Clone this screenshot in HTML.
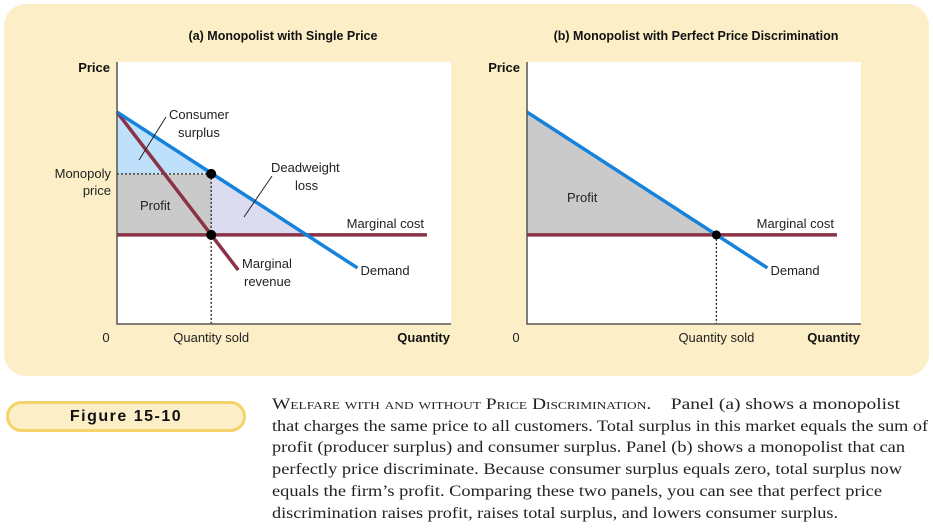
<!DOCTYPE html>
<html><head><meta charset="utf-8">
<style>
body{margin:0;width:933px;height:529px;background:#fff;overflow:hidden;font-family:"Liberation Sans",sans-serif}
#bg{position:absolute;left:4px;top:4px;width:925px;height:372px;background:#fcefc7;border-radius:22px}
svg{position:absolute;left:0;top:0}
#fig{position:absolute;left:6px;top:401px;width:240px;height:31px;background:#fcefc7;border:3px solid #f5d36a;border-radius:16px;box-sizing:border-box;font:bold 16px "Liberation Sans",sans-serif;letter-spacing:1.5px;text-align:center;line-height:25px;color:#111}
#cap{position:absolute;left:272px;top:394px;font:16px/21.7px "Liberation Serif",serif;color:#222}
#cap div{white-space:nowrap;transform-origin:0 0;display:block;width:max-content}
.sc{font-variant:small-caps}
</style></head><body>
<div id="bg"></div>
<svg id="chart" width="933" height="529"></svg>
<div id="fig">Figure 15-10</div>
<div id="cap">
<div data-w="628"><span class="sc">Welfare with and without Price Discrimination.</span>&nbsp;&nbsp;&nbsp; Panel (a) shows a monopolist</div>
<div data-w="656">that charges the same price to all customers. Total surplus in this market equals the sum of</div>
<div data-w="633">profit (producer surplus) and consumer surplus. Panel (b) shows a monopolist that can</div>
<div data-w="630">perfectly price discriminate. Because consumer surplus equals zero, total surplus now</div>
<div data-w="610">equals the firm’s profit. Comparing these two panels, you can see that perfect price</div>
<div data-w="566">discrimination raises profit, raises total surplus, and lowers consumer surplus.</div>
</div>
<script>
// data (model units: quantity 0..10, price 0..10)
const demandStart=[0,8.09];
const demandEnd=[7.2,2.14];
const mcPrice=[3.4];
const mcEndQ=[9.28];
const monopolyQ=[2.82];
const monopolyP=[5.73];
const mrEnd=[3.63,2.06];
const perfectQ=[5.67];

document.querySelectorAll('#cap div').forEach(d=>{const w=d.getBoundingClientRect().width;d.style.transform='scaleX('+(+d.dataset.w/w)+')';});

const svg=document.getElementById('chart');
const NS='http://www.w3.org/2000/svg';
function el(t,a,p){const e=document.createElementNS(NS,t);for(const k in a)e.setAttribute(k,a[k]);(p||svg).appendChild(e);return e;}
function txt(s,x,y,o){const e=el('text',Object.assign({x:x,y:y,'font-size':13,fill:'#222','font-family':'Liberation Sans, sans-serif'},o||{}));e.textContent=s;return e;}
const dP=(q)=>demandStart[1]+(demandEnd[1]-demandStart[1])*(q-demandStart[0])/(demandEnd[0]-demandStart[0]);
const qAtP=(p)=>demandStart[0]+(p-demandStart[1])*(demandEnd[0]-demandStart[0])/(demandEnd[1]-demandStart[1]);

function panel(x0,pref,disc){
  const X=q=>x0+q*33.4, Y=p=>324-p*26.2;
  const g=el('g',{});
  
  
  el('rect',{x:x0,y:62,width:334,height:262,fill:'#fff'},g);
  const mc=mcPrice[0], qc=qAtP(mc);
  if(!disc){
    const qm=monopolyQ[0], pm=monopolyP[0];
    let a=el('polygon',{points:`${X(0)},${Y(demandStart[1])} ${X(qm)},${Y(dP(qm))} ${X(0)},${Y(pm)}`,fill:'#bfe0fb'},g);
    
    a=el('rect',{x:X(0),y:Y(pm),width:X(qm)-X(0),height:Y(mc)-Y(pm),fill:'#cacaca'},g);
    
    a=el('polygon',{points:`${X(qm)},${Y(dP(qm))} ${X(qc)},${Y(mc)} ${X(qm)},${Y(mc)}`,fill:'#dcdcf0'},g);
    
    el('line',{x1:X(0),y1:Y(pm),x2:X(qm),y2:Y(pm),stroke:'#222','stroke-width':1.3,'stroke-dasharray':'2,2'},g);
    el('line',{x1:X(qm),y1:Y(pm),x2:X(qm),y2:324,stroke:'#222','stroke-width':1.3,'stroke-dasharray':'2,2'},g);
    a=el('line',{x1:X(demandStart[0]),y1:Y(demandStart[1]),x2:X(mrEnd[0]),y2:Y(mrEnd[1]),stroke:'#8b3346','stroke-width':3.5},g);
    
  }else{
    let a=el('polygon',{points:`${X(0)},${Y(demandStart[1])} ${X(qc)},${Y(mc)} ${X(0)},${Y(mc)}`,fill:'#cacaca'},g);
    
    el('line',{x1:X(perfectQ[0]),y1:Y(mc),x2:X(perfectQ[0]),y2:324,stroke:'#222','stroke-width':1.3,'stroke-dasharray':'2,2'},g);
  }
  let m=el('line',{x1:X(0),y1:Y(mc),x2:X(mcEndQ[0]),y2:Y(mc),stroke:'#8b3346','stroke-width':3.5},g);
  
  m=el('line',{x1:X(demandStart[0]),y1:Y(demandStart[1]),x2:X(demandEnd[0]),y2:Y(demandEnd[1]),stroke:'#1582dc','stroke-width':3.5},g);
  
  if(!disc){
    el('circle',{cx:X(monopolyQ[0]),cy:Y(monopolyP[0]),r:5,fill:'#000'},g);
    el('circle',{cx:X(monopolyQ[0]),cy:Y(mc),r:5,fill:'#000'},g);
  } else el('circle',{cx:X(perfectQ[0]),cy:Y(mc),r:4.5,fill:'#000'},g);
  el('polyline',{points:`${x0},62 ${x0},324 ${x0+334},324`,fill:'none',stroke:'#555','stroke-width':1.5},g);
  txt('Price',x0-7,72,{'text-anchor':'end','font-weight':'bold',fill:'#111'});
  txt('Quantity',x0+333,342,{'text-anchor':'end','font-weight':'bold',fill:'#111'});
  txt('0',x0-11,342,{'text-anchor':'middle'});
  const qs=disc?perfectQ[0]:monopolyQ[0];
  txt('Quantity sold',X(qs),342,{'text-anchor':'middle'});
  txt('Marginal cost',X(mcEndQ[0])-3,228,{'text-anchor':'end'});
  txt('Demand',X(demandEnd[0])+3,275);
  if(!disc){
    txt('Monopoly',x0-6,178,{'text-anchor':'end'});
    txt('price',x0-6,195,{'text-anchor':'end'});
    txt('Profit',x0+23,210);
    txt('Consumer',x0+52,119);
    txt('surplus',x0+61,137);
    el('line',{x1:x0+49,y1:117,x2:x0+22,y2:160,stroke:'#222','stroke-width':1},g);
    txt('Deadweight',x0+154,172);
    txt('loss',x0+178,190);
    el('line',{x1:x0+155,y1:176,x2:x0+127,y2:217,stroke:'#222','stroke-width':1},g);
    txt('Marginal',x0+125,268);
    txt('revenue',x0+127,286);
  } else txt('Profit',x0+40,202);
}
txt('(a) Monopolist with Single Price',283,40,{'text-anchor':'middle','font-weight':'bold','font-size':12.5,fill:'#111'});
txt('(b) Monopolist with Perfect Price Discrimination',696,40,{'text-anchor':'middle','font-weight':'bold','font-size':12.5,fill:'#111'});
panel(117,'panel-a-',false);
panel(527,'panel-b-',true);
</script>
</body></html>
